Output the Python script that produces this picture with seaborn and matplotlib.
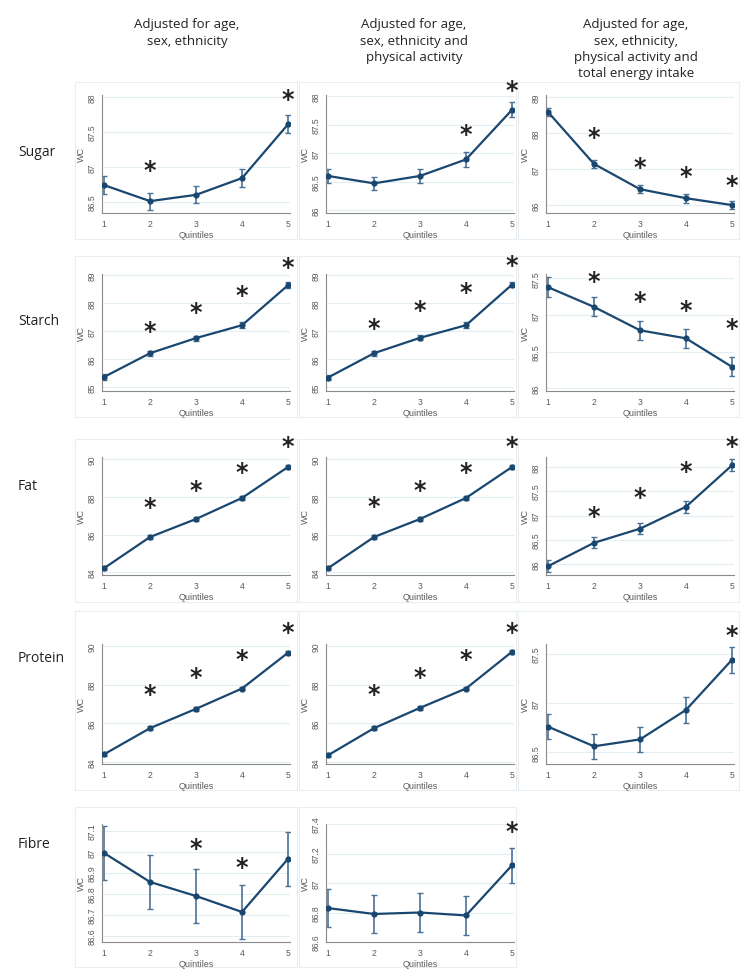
import numpy as np
import pandas as pd
import matplotlib
matplotlib.use('Agg')
import matplotlib.pyplot as plt
from matplotlib.patches import Rectangle
from matplotlib.ticker import FormatStrFormatter
import seaborn as sns

# ---- data ----
quintiles = [1, 2, 3, 4, 5]

models = ['Adjusted for age,\nsex, ethnicity',
          'Adjusted for age,\nsex, ethnicity and\nphysical activity',
          'Adjusted for age,\nsex, ethnicity,\nphysical activity and\ntotal energy intake']
nutrients = ['Sugar', 'Starch', 'Fat', 'Protein', 'Fibre']

# mean WC per quintile, one list per nutrient / model
sugar_m1 = [86.74, 86.51, 86.60, 86.84, 87.61]
sugar_m2 = [86.60, 86.47, 86.60, 86.89, 87.76]
sugar_m3 = [88.58, 87.14, 86.44, 86.19, 86.00]
starch_m1 = [85.36, 86.21, 86.75, 87.21, 88.64]
starch_m2 = [85.34, 86.21, 86.76, 87.21, 88.66]
starch_m3 = [87.38, 87.11, 86.79, 86.68, 86.29]
fat_m1 = [84.21, 85.87, 86.83, 87.95, 89.60]
fat_m2 = [84.21, 85.87, 86.83, 87.95, 89.60]
fat_m3 = [85.96, 86.44, 86.73, 87.18, 88.03]
protein_m1 = [84.40, 85.75, 86.75, 87.80, 89.65]
protein_m2 = [84.35, 85.75, 86.80, 87.80, 89.70]
protein_m3 = [86.76, 86.56, 86.63, 86.93, 87.44]
fibre_m1 = [86.995, 86.857, 86.790, 86.714, 86.967]
fibre_m2 = [86.83, 86.79, 86.80, 86.78, 87.12]

# half width of the 95% CI
sugar_m1_ci = [0.13, 0.12, 0.12, 0.13, 0.13]
sugar_m2_ci = [0.13, 0.12, 0.13, 0.13, 0.13]
sugar_m3_ci = [0.12, 0.11, 0.11, 0.12, 0.12]
starch_m1_ci = [0.10, 0.09, 0.09, 0.10, 0.10]
starch_m2_ci = [0.10, 0.09, 0.09, 0.10, 0.10]
starch_m3_ci = [0.14, 0.13, 0.13, 0.13, 0.13]
fat_m1_ci = [0.10, 0.09, 0.09, 0.09, 0.10]
fat_m2_ci = [0.10, 0.09, 0.09, 0.09, 0.10]
fat_m3_ci = [0.12, 0.11, 0.11, 0.12, 0.12]
protein_m1_ci = [0.10, 0.09, 0.09, 0.09, 0.10]
protein_m2_ci = [0.10, 0.09, 0.09, 0.09, 0.10]
protein_m3_ci = [0.13, 0.13, 0.13, 0.13, 0.13]
fibre_m1_ci = [0.13, 0.13, 0.13, 0.13, 0.13]
fibre_m2_ci = [0.13, 0.13, 0.13, 0.13, 0.12]

# height of the significance asterisks (None = no asterisk)
sugar_m1_star = [None, 86.96, None, None, 87.97]
sugar_m2_star = [None, None, None, 87.33, 88.10]
sugar_m3_star = [None, 87.89, 87.06, 86.81, 86.56]
starch_m1_star = [None, 87.00, 87.68, 88.30, 89.30]
starch_m2_star = [None, 87.10, 87.75, 88.40, 89.35]
starch_m3_star = [None, 87.46, 87.19, 87.07, 86.82]
fat_m1_star = [None, 87.47, 88.37, 89.33, 90.70]
fat_m2_star = [None, 87.50, 88.40, 89.35, 90.70]
fat_m3_star = [None, 87.00, 87.37, 87.92, 88.43]
protein_m1_star = [None, 87.50, 88.40, 89.30, 90.70]
protein_m2_star = [None, 87.50, 88.40, 89.30, 90.70]
protein_m3_star = [None, None, None, None, 87.69]
fibre_m1_star = [None, None, 87.02, 86.93, None]
fibre_m2_star = [None, None, None, None, 87.35]

# y tick labels of each panel
sugar_ticks = [[86.5, 87, 87.5, 88], [86, 86.5, 87, 87.5, 88], [86, 87, 88, 89]]
starch_ticks = [[85, 86, 87, 88, 89], [85, 86, 87, 88, 89], [86, 86.5, 87, 87.5]]
fat_ticks = [[84, 86, 88, 90], [84, 86, 88, 90], [86, 86.5, 87, 87.5, 88]]
protein_ticks = [[84, 86, 88, 90], [84, 86, 88, 90], [86.5, 87, 87.5]]
fibre_ticks = [[86.6, 86.7, 86.8, 86.9, 87, 87.1], [86.6, 86.8, 87, 87.2, 87.4]]

# ---- tables built from the lists ----
means = [[sugar_m1, sugar_m2, sugar_m3], [starch_m1, starch_m2, starch_m3],
         [fat_m1, fat_m2, fat_m3], [protein_m1, protein_m2, protein_m3],
         [fibre_m1, fibre_m2]]
cis = [[sugar_m1_ci, sugar_m2_ci, sugar_m3_ci], [starch_m1_ci, starch_m2_ci, starch_m3_ci],
       [fat_m1_ci, fat_m2_ci, fat_m3_ci], [protein_m1_ci, protein_m2_ci, protein_m3_ci],
       [fibre_m1_ci, fibre_m2_ci]]
stars = [[sugar_m1_star, sugar_m2_star, sugar_m3_star],
         [starch_m1_star, starch_m2_star, starch_m3_star],
         [fat_m1_star, fat_m2_star, fat_m3_star],
         [protein_m1_star, protein_m2_star, protein_m3_star],
         [fibre_m1_star, fibre_m2_star]]
ticks = [sugar_ticks, starch_ticks, fat_ticks, protein_ticks, fibre_ticks]

# ---- layout (pixels) ----
W, H = 741, 970
col_x = [(102, 290), (326, 514), (546, 734)]
row_y = [(96, 214), (275, 392), (458, 576), (645, 765), (825, 943)]
ylims = [[(86.34, 88.03), (85.95, 88.02), (85.78, 89.05)],
         [(84.86, 89.04), (84.86, 89.04), (85.96, 87.56)],
         [(83.85, 90.13), (83.85, 90.13), (85.78, 88.20)],
         [(83.90, 90.10), (83.90, 90.10), (86.38, 87.60)],
         [(86.571, 87.133), (86.60, 87.40)]]
box_x = [(75, 297), (299, 516), (518, 739)]
box_y = [(83, 240), (257, 418), (440, 603), (612, 791), (808, 968)]
header_x = [187, 414, 636]
label_y = [152, 322, 487, 658, 845]

navy = '#1a476f'
bar_col = '#4a7196'
grid_col = '#e4eef2'
spine_col = '#8a8a8a'
text_col = '#5a5a5a'

sns.set_style('white')
plt.rcParams['font.family'] = ['Liberation Sans', 'DejaVu Sans']

fig = plt.figure(figsize=(W / 100, H / 100), dpi=100)


def px_rect(x0, x1, y0, y1):
    return [x0 / W, 1 - y1 / H, (x1 - x0) / W, (y1 - y0) / H]


for c, txt in enumerate(models):
    fig.text(header_x[c] / W, 1 - 18 / H, txt, ha='center', va='top',
             fontsize=9.5, family='Open Sans', color='#222222', linespacing=1.35)

for r, nut in enumerate(nutrients):
    fig.text(18 / W, 1 - label_y[r] / H, nut, ha='left', va='center',
             fontsize=10, family='Open Sans', color='#222222')

for r in range(len(nutrients)):
    for c in range(len(means[r])):
        bx0, bx1 = box_x[c]
        by0, by1 = box_y[r]
        fig.add_artist(Rectangle((bx0 / W, 1 - by1 / H), (bx1 - bx0) / W, (by1 - by0) / H,
                                 transform=fig.transFigure, fill=False,
                                 edgecolor='#e8edf1', lw=0.8, zorder=0))

        ax = fig.add_axes(px_rect(col_x[c][0], col_x[c][1], row_y[r][0], row_y[r][1]))
        df = pd.DataFrame({'Quintiles': quintiles, 'WC': means[r][c], 'ci': cis[r][c]})

        ax.errorbar(df['Quintiles'], df['WC'], yerr=df['ci'], fmt='none',
                    ecolor=bar_col, elinewidth=1.2, capsize=2, capthick=1, zorder=2)
        sns.lineplot(data=df, x='Quintiles', y='WC', ax=ax, color=navy, lw=1.6,
                     marker='o', markersize=4.5, markeredgewidth=0, zorder=3)

        for q, s in zip(quintiles, stars[r][c]):
            if s is not None:
                ax.text(q, s, '*', ha='center', va='center', fontsize=17,
                        fontweight='bold', family='DejaVu Sans', color='#222222',
                        clip_on=False)

        ax.set_xlim(0.957, 5.043)
        ax.set_ylim(*ylims[r][c])
        ax.set_xticks(quintiles)
        ax.set_yticks(ticks[r][c])
        ax.yaxis.set_major_formatter(FormatStrFormatter('%g'))
        ax.grid(axis='y', color=grid_col, lw=0.8)
        ax.set_axisbelow(True)
        for side in ['top', 'right']:
            ax.spines[side].set_visible(False)
        for side in ['left', 'bottom']:
            ax.spines[side].set_color(spine_col)
            ax.spines[side].set_linewidth(0.8)
        ax.tick_params(axis='both', which='major', direction='out', length=2.5,
                       width=0.7, color=spine_col, labelsize=6.2, labelcolor=text_col, pad=1.5)
        for lab in ax.get_yticklabels():
            lab.set_rotation(90)
            lab.set_va('center')
        ax.set_xlabel('Quintiles', fontsize=6.5, color=text_col, labelpad=2)
        ax.set_ylabel('WC', fontsize=6.5, color=text_col, labelpad=1)

fig.savefig('out.png', dpi=100)
